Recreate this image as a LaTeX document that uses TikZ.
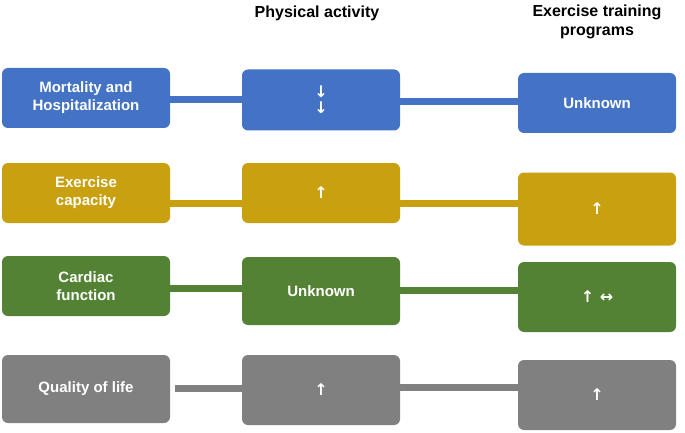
\documentclass[tikz,border=0pt]{standalone}
\usepackage{fontspec}
\setmainfont{Liberation Sans}
\newfontfamily\arrfont{DejaVu Sans}
\newcommand{\ar}[1]{{\arrfont\fontsize{16}{18}\selectfont #1}}
\definecolor{cb}{HTML}{4472C4}
\definecolor{cy}{HTML}{C9A010}
\definecolor{cg}{HTML}{548235}
\definecolor{cgr}{HTML}{808080}
\begin{document}
\begin{tikzpicture}[x=1pt,y=-1pt,
  box/.style={rounded corners=6pt,minimum width=158pt,align=center,text=white,font=\bfseries\fontsize{15}{18}\selectfont,inner sep=0pt},
  hd/.style={font=\bfseries\fontsize{16}{19}\selectfont,align=center},
  bar/.style={line width=7pt}]
\useasboundingbox (0,0) rectangle (685,433);
\node[hd] (h1) at (317,13) {Physical activity};
\node[hd] (h2) at (597,22) {Exercise training\\programs};
% row 1
\node[box,fill=cb,minimum width=168pt,minimum height=60pt] (a1) at (86,98) {Mortality and\\Hospitalization};
\node[box,fill=cb,minimum height=61pt] (b1) at (321,100) {\ar{↓}\\[-2pt]\ar{↓}};
\node[box,fill=cb,minimum height=60pt] (c1) at (597,103) {Unknown};
\draw[bar,cb] (a1.east) ++(0,2) coordinate (p1) -- (p1 -| b1.west);
\draw[bar,cb] (b1.east) ++(0,2) coordinate (q1) -- (q1 -| c1.west);
% row 2
\node[box,fill=cy,minimum width=168pt,minimum height=60pt] (a2) at (86,193) {Exercise\\capacity};
\node[box,fill=cy,minimum height=60pt] (b2) at (321,193) {\ar{↑}};
\node[box,fill=cy,minimum height=73pt] (c2) at (597,209) {\ar{↑}};
\draw[bar,cy] (a2.east) ++(0,10) coordinate (p2) -- (p2 -| b2.west);
\draw[bar,cy] (b2.east) ++(0,10) coordinate (q2) -- (q2 -| c2.west);
% row 3
\node[box,fill=cg,minimum width=168pt,minimum height=60pt] (a3) at (86,286) {Cardiac\\function};
\node[box,fill=cg,minimum height=68pt] (b3) at (321,291) {Unknown};
\node[box,fill=cg,minimum height=70pt] (c3) at (597,297) {\ar{↑ ↔}};
\draw[bar,cg] (a3.east) ++(0,2) coordinate (p3) -- (p3 -| b3.west);
\draw[bar,cg] (b3.east) ++(0,-1) coordinate (q3) -- (q3 -| c3.west);
% row 4
\node[box,fill=cgr,minimum width=168pt,minimum height=68pt] (a4) at (86,389) {Quality of life};
\node[box,fill=cgr,minimum height=70pt] (b4) at (321,390) {\ar{↑}};
\node[box,fill=cgr,minimum height=70pt] (c4) at (597,395) {\ar{↑}};
\draw[bar,cgr] (a4.east) ++(5,-1) coordinate (p4) -- (p4 -| b4.west);
\draw[bar,cgr] (b4.east) ++(0,-3) coordinate (q4) -- (q4 -| c4.west);
\end{tikzpicture}
\end{document}
